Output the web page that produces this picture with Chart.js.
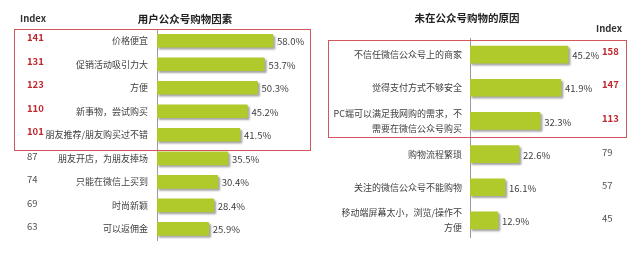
<!DOCTYPE html>
<html>
<head>
<meta charset="utf-8">
<script src="https://cdn.jsdelivr.net/npm/chart.js@4"></script>
<style>
  body { margin: 0; background: #fff; width: 631px; height: 257px; overflow: hidden; position: relative; }
  #leftChart { position: absolute; left: 0; top: 0; }
  #rightChart { position: absolute; left: 315px; top: 0; }
</style>
</head>
<body>
<canvas id="leftChart" width="315" height="257"></canvas>
<canvas id="rightChart" width="316" height="257"></canvas>
<script>
// left: why users buy through official accounts
const leftLabels = ['价格便宜', '促销活动吸引力大', '方便', '新事物，尝试购买', '朋友推荐/朋友购买过不错',
  '朋友开店，为朋友捧场', '只能在微信上买到', '时尚新颖', '可以返佣金'];
const leftValues = [58.0, 53.7, 50.3, 45.2, 41.5, 35.5, 30.4, 28.4, 25.9];
const leftIndex = [141, 131, 123, 110, 101, 87, 74, 69, 63];

// right: why they don't
const rightLabels = ['不信任微信公众号上的商家', '觉得支付方式不够安全',
  ['PC端可以满足我网购的需求，不', '需要在微信公众号购买'], '购物流程繁琐',
  '关注的微信公众号不能购物', ['移动端屏幕太小，浏览/操作不', '方便']];
const rightValues = [45.2, 41.9, 32.3, 22.6, 16.1, 12.9];
const rightIndex = [158, 147, 113, 79, 57, 45];

const FONT = '"Noto Sans CJK SC", "Noto Sans", sans-serif';
const BAR = '#b0c92b';
const RED = '#c0282e';

// shadow under the bars
const shadowPlugin = {
  id: 'barShadow',
  beforeDatasetsDraw(chart) {
    const c = chart.ctx;
    c.save();
    c.shadowColor = 'rgba(0,0,0,0.35)';
    c.shadowOffsetX = 2;
    c.shadowOffsetY = 2;
    c.shadowBlur = 2;
  },
  afterDatasetsDraw(chart) {
    chart.ctx.restore();
  }
};

// value labels, index column, titles, red box
function extrasPlugin(opt) {
  return {
    id: 'extras',
    afterDraw(chart) {
      const c = chart.ctx;
      const meta = chart.getDatasetMeta(0);
      const vals = chart.data.datasets[0].data;
      c.save();
      c.textBaseline = 'middle';
      meta.data.forEach((bar, i) => {
        c.font = '9.5px ' + FONT;
        c.fillStyle = '#404040';
        c.textAlign = 'left';
        c.fillText(vals[i].toFixed(1) + '%', bar.x + 4, bar.y + 1);
        const hi = i < opt.highlight;
        c.font = (hi ? 'bold ' : '') + '9.5px ' + FONT;
        c.fillStyle = hi ? RED : '#505050';
        c.fillText(String(opt.index[i]), opt.indexX, bar.y - (hi ? 3 : 2));
      });
      c.font = 'bold 10.5px ' + FONT;
      c.fillStyle = '#222';
      c.textAlign = 'center';
      c.fillText(opt.title, opt.titleX, opt.titleY);
      c.font = 'bold 9.5px ' + FONT;
      c.fillStyle = '#333';
      c.textAlign = 'left';
      c.fillText('Index', opt.headX, opt.headY);
      c.strokeStyle = '#d0575c';
      c.lineWidth = 1;
      const b = opt.box;
      c.strokeRect(b[0] + 0.5, b[1] + 0.5, b[2], b[3]);
      c.restore();
    }
  };
}

function makeChart(id, labels, values, cfg) {
  return new Chart(document.getElementById(id), {
    type: 'bar',
    data: {
      labels: labels,
      datasets: [{
        data: values,
        backgroundColor: BAR,
        barThickness: cfg.thickness,
        borderRadius: 1,
        borderSkipped: 'left'
      }]
    },
    options: {
      indexAxis: 'y',
      responsive: false,
      animation: false,
      layout: { padding: cfg.padding },
      plugins: { legend: { display: false }, tooltip: { enabled: false } },
      scales: {
        x: { display: false, min: 0, max: cfg.max },
        y: {
          afterFit(scale) { scale.width = cfg.axisX; },
          grid: { display: false, drawTicks: false },
          border: { display: true, color: '#9a9a9a', width: 1 },
          ticks: {
            padding: cfg.tickPad,
            color: '#404040',
            font: { family: FONT, size: 9, lineHeight: 1.65 }
          }
        }
      }
    },
    plugins: [shadowPlugin, extrasPlugin(cfg.extras)]
  });
}

makeChart('leftChart', leftLabels, leftValues, {
  thickness: 13,
  padding: { left: 0, top: 29, right: 8, bottom: 7 },
  max: 75,
  axisX: 157,
  tickPad: 9,
  extras: {
    index: leftIndex, highlight: 5, indexX: 27,
    title: '用户公众号购物因素', titleX: 185, titleY: 19,
    headX: 20, headY: 18,
    box: [14, 29, 296, 121]
  }
});

makeChart('rightChart', rightLabels, rightValues, {
  thickness: 17,
  padding: { left: 0, top: 38, right: 9, bottom: 20 },
  max: 70,
  axisX: 155,
  tickPad: 8,
  extras: {
    index: rightIndex, highlight: 3, indexX: 287,
    title: '未在公众号购物的原因', titleX: 152, titleY: 18,
    headX: 281, headY: 28,
    box: [13, 40, 298, 97]
  }
});
</script>
</body>
</html>
